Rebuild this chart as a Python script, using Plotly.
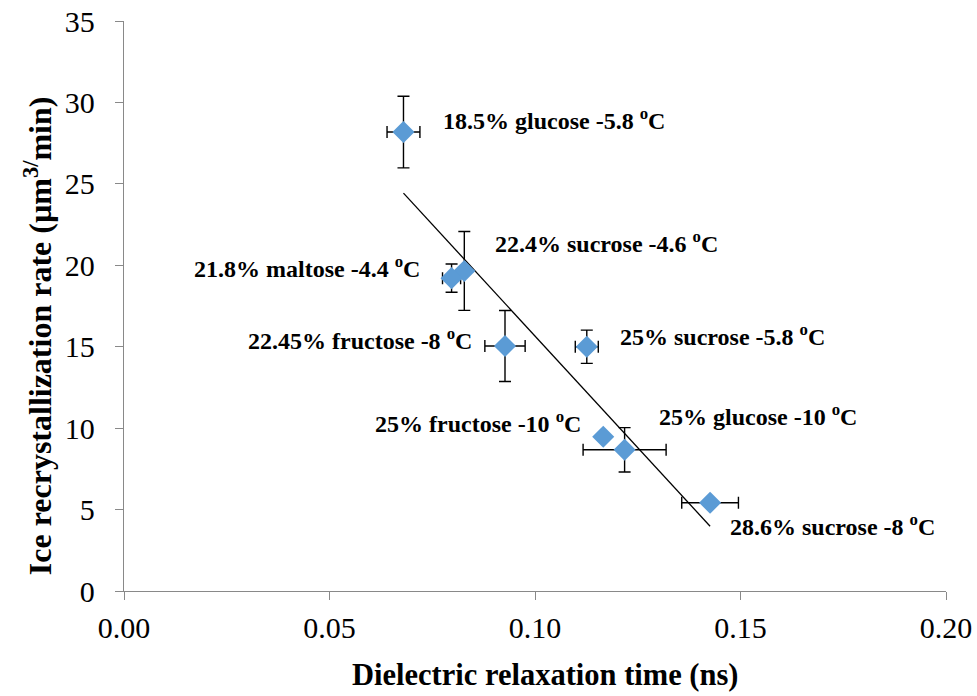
import numpy as np
import plotly.graph_objects as go

# Dielectric relaxation time (ns) vs. ice recrystallization rate for sugar solutions
labels = [
    "18.5% glucose -5.8 <sup>o</sup>C",
    "22.4% sucrose -4.6 <sup>o</sup>C",
    "21.8% maltose -4.4 <sup>o</sup>C",
    "22.45% fructose -8 <sup>o</sup>C",
    "25% sucrose -5.8 <sup>o</sup>C",
    "25% fructose -10 <sup>o</sup>C",
    "25% glucose -10 <sup>o</sup>C",
    "28.6% sucrose -8 <sup>o</sup>C",
]
relax_time = [0.068, 0.0828, 0.0797, 0.0927, 0.1126, 0.1166, 0.1218, 0.1426]
relax_err = [0.004, 0.0, 0.0022, 0.0049, 0.0028, 0.0, 0.0101, 0.0069]
ir_rate = [28.18, 19.65, 19.21, 15.04, 15.0, 9.47, 8.67, 5.42]
ir_err = [2.2, 2.42, 0.87, 2.18, 1.02, 0.0, 1.36, 0.0]

# Where each sample label sits (left edge, vertical centre) in data units
label_x = [0.0771, 0.0897, 0.0166, 0.0296, 0.1203, 0.0606, 0.1296, 0.1469]
label_y = [29.0, 21.45, 19.9, 15.5, 15.7, 10.4, 10.8, 4.05]

x_ticks = [0.00, 0.05, 0.10, 0.15, 0.20]
y_ticks = [0, 5, 10, 15, 20, 25, 30, 35]

x_title = "<b>Dielectric relaxation time (ns)</b>"
y_title = "<b>Ice recrystallization rate (µm<sup>3/</sup>min)</b>"

# Linear trend line fitted to the points
slope, intercept = np.polyfit(relax_time, ir_rate, 1)
fit_x = np.array([min(relax_time), max(relax_time)])
fit_y = slope * fit_x + intercept

serif = "Liberation Serif, Times New Roman, serif"
axis_grey = "#898989"

fig = go.Figure()

fig.add_trace(go.Scatter(
    x=fit_x, y=fit_y, mode="lines",
    line=dict(color="black", width=1.3),
    hoverinfo="skip", showlegend=False,
))

fig.add_trace(go.Scatter(
    x=relax_time, y=ir_rate, mode="markers",
    marker=dict(symbol="diamond", size=17, color="#5B9BD5"),
    error_x=dict(type="data", array=relax_err, visible=True,
                 color="black", thickness=1.4, width=6),
    error_y=dict(type="data", array=ir_err, visible=True,
                 color="black", thickness=1.4, width=6),
    showlegend=False,
))

for txt, lx, ly in zip(labels, label_x, label_y):
    fig.add_annotation(
        x=lx, y=ly, text=f"<b>{txt}</b>", showarrow=False,
        xanchor="left", yanchor="middle",
        font=dict(family=serif, size=24, color="black"),
    )

# Axis titles
fig.add_annotation(
    x=0.5, y=0, xref="paper", yref="paper", xshift=10, yshift=-84,
    text=x_title, showarrow=False, xanchor="center", yanchor="middle",
    font=dict(family=serif, size=30.5, color="black"),
)
fig.add_annotation(
    x=0, y=0.447, xref="paper", yref="paper", xshift=-86,
    text=y_title, showarrow=False, textangle=-90,
    xanchor="center", yanchor="middle",
    font=dict(family=serif, size=32, color="black"),
)

fig.update_xaxes(
    range=[0, 0.20], tickvals=x_ticks, ticktext=[f"{v:.2f}" for v in x_ticks],
    showgrid=False, zeroline=False,
    showline=True, linecolor=axis_grey, linewidth=1.3,
    ticks="outside", ticklen=8, tickcolor=axis_grey, tickwidth=1.3,
    tickfont=dict(family=serif, size=30, color="black"),
    ticklabelstandoff=2,
)
fig.update_yaxes(
    range=[0, 35], tickvals=y_ticks,
    showgrid=False, zeroline=False,
    showline=True, linecolor=axis_grey, linewidth=1.3,
    ticks="outside", ticklen=8, tickcolor=axis_grey, tickwidth=1.3,
    tickfont=dict(family=serif, size=30, color="black"),
    ticklabelstandoff=14,
)

fig.update_layout(
    width=977, height=696,
    margin=dict(l=124, r=31, t=21, b=105, autoexpand=False),
    plot_bgcolor="white", paper_bgcolor="white",
)

fig.write_html("out.html")
